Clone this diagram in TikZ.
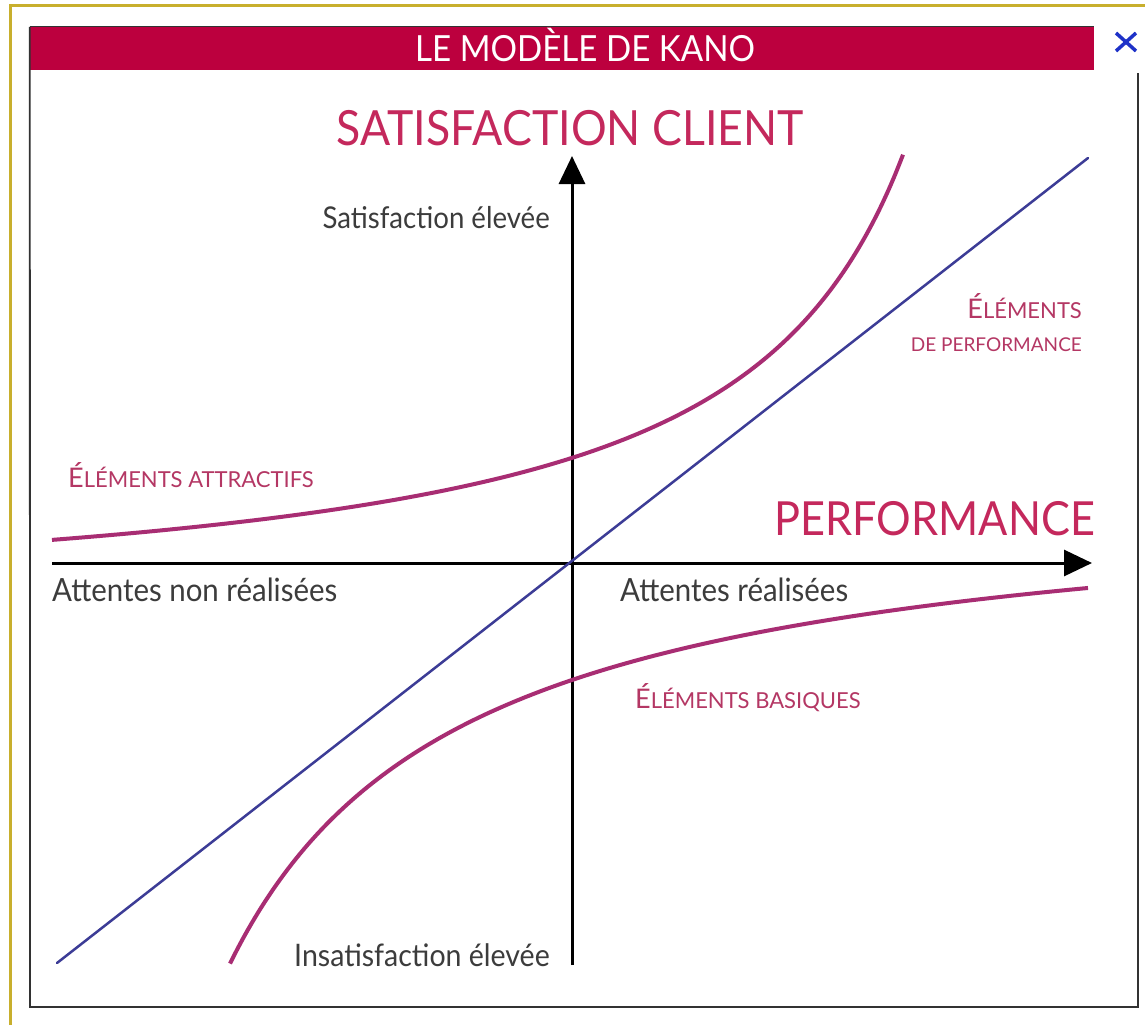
\documentclass[tikz,border=0pt]{standalone}
\usepackage{fontspec}
\setmainfont{Lato}
\newfontfamily\gillf[FakeStretch=0.92]{Lato}
\usetikzlibrary{arrows.meta}
\definecolor{kanored}{RGB}{188,0,62}
\definecolor{kanopink}{RGB}{196,40,92}
\definecolor{lblpink}{RGB}{180,55,100}
\definecolor{curvecol}{RGB}{168,45,115}
\definecolor{perfblue}{RGB}{60,60,150}
\definecolor{darktext}{RGB}{60,60,60}
\definecolor{goldframe}{RGB}{200,175,45}
\definecolor{framegray}{RGB}{50,50,50}
\definecolor{closeblue}{RGB}{30,50,200}
\newcommand{\eltxt}[1]{{\fontsize{27}{27}\selectfont É}{\fontsize{22}{22}\selectfont #1}}
\begin{document}
\begin{tikzpicture}[x=1pt,y=-1pt,
  axisline/.style={line width=3pt,black,-{Triangle[length=28pt,width=26pt]}},
  perfline/.style={line width=2.5pt,perfblue},
  kcurve/.style={line width=4pt,curvecol},
  darklbl/.style={text=darktext,inner sep=0pt,font=\gillf\fontsize{30}{30}\selectfont},
  attlbl/.style={text=darktext,inner sep=0pt,font=\gillf\fontsize{32}{32}\selectfont},
  biglbl/.style={text=kanopink,inner sep=0pt,font=\gillf\fontsize{47}{47}\selectfont},
  elemlbl/.style={text=lblpink,inner sep=0pt},
  frameline/.style={line width=1.8pt,framegray}]
\useasboundingbox (0,0) rectangle (1145,1025);
\fill[white] (0,0) rectangle (1145,1025);
% gold outer frame
\draw[goldframe,line width=3pt] (10,1025) -- (10,6) -- (1145,6);
% title bar
\node[fill=kanored,minimum width=1064pt,minimum height=43pt,inner sep=0pt] (titlebar) at (562,48.5) {};
\node[text=white,inner sep=0pt,anchor=base,font=\gillf\fontsize{36}{36}\selectfont] (title) at (585,61) {LE MODÈLE DE KANO};
\draw[line width=1.2pt,black!80] (titlebar.north west) -- (titlebar.north east);
\coordinate (frBL) at (30,1007);
\coordinate (frBR) at (1138,1007);
\coordinate (frTR) at (1138,73);
\draw[frameline] (titlebar.north west) -- (frBL) -- (frBR) -- (frTR);
% close mark
\coordinate (xa) at (1116,33); \coordinate (xb) at (1136,51);
\coordinate (xc) at (1136,33); \coordinate (xd) at (1116,51);
\draw[closeblue,line width=3.5pt] (xa) -- (xb) (xc) -- (xd);
% axes
\coordinate (O) at (572,563);
\coordinate (xL) at (52,563); \coordinate (xR) at (1092,563);
\coordinate (yB) at (572,965); \coordinate (yT) at (572,156);
\draw[axisline] (xL) -- (xR);
\draw[axisline] (yB) -- (yT);
% performance line
\coordinate (pB) at (57,963); \coordinate (pT) at (1088,158);
\draw[perfline,line cap=round] (pB) -- (pT);
% attractive curve
\draw[kcurve] plot[domain=52:903,samples=120,smooth] (\x,{563-(82.355/(1.080-\x/1000)-57)});
% basic curve
\draw[kcurve] plot[domain=230:1088,samples=120,smooth] (\x,{563+(112.442/(\x/1000+0.005)-77.9)});
% labels
\node[biglbl,anchor=base,font=\gillf\fontsize{48.5}{48.5}\selectfont] (satcl) at (570,145) {SATISFACTION CLIENT};
\node[biglbl,anchor=base east] (perf) at (1095,535) {PERFORMANCE};
\node[darklbl,anchor=base east] (sathi) at (550,228) {Satisfaction élevée};
\node[darklbl,anchor=base east,font=\gillf\fontsize{31}{31}\selectfont] (insat) at (550,966) {Insatisfaction élevée};
\node[attlbl,anchor=base west] (attno) at (52,601) {Attentes non réalisées};
\node[attlbl,anchor=base west] (attok) at (620,601) {Attentes réalisées};
\node[elemlbl,anchor=base west] (eattr) at (68,487) {\eltxt{LÉMENTS ATTRACTIFS}};
\node[elemlbl,anchor=base east] (eperf1) at (1082,318) {\eltxt{LÉMENTS}};
\node[elemlbl,anchor=base east] (eperf2) at (1082,351) {\fontsize{19}{19}\selectfont DE PERFORMANCE};
\node[elemlbl,anchor=base west] (ebas) at (635,708) {\eltxt{LÉMENTS BASIQUES}};
\end{tikzpicture}
\end{document}
